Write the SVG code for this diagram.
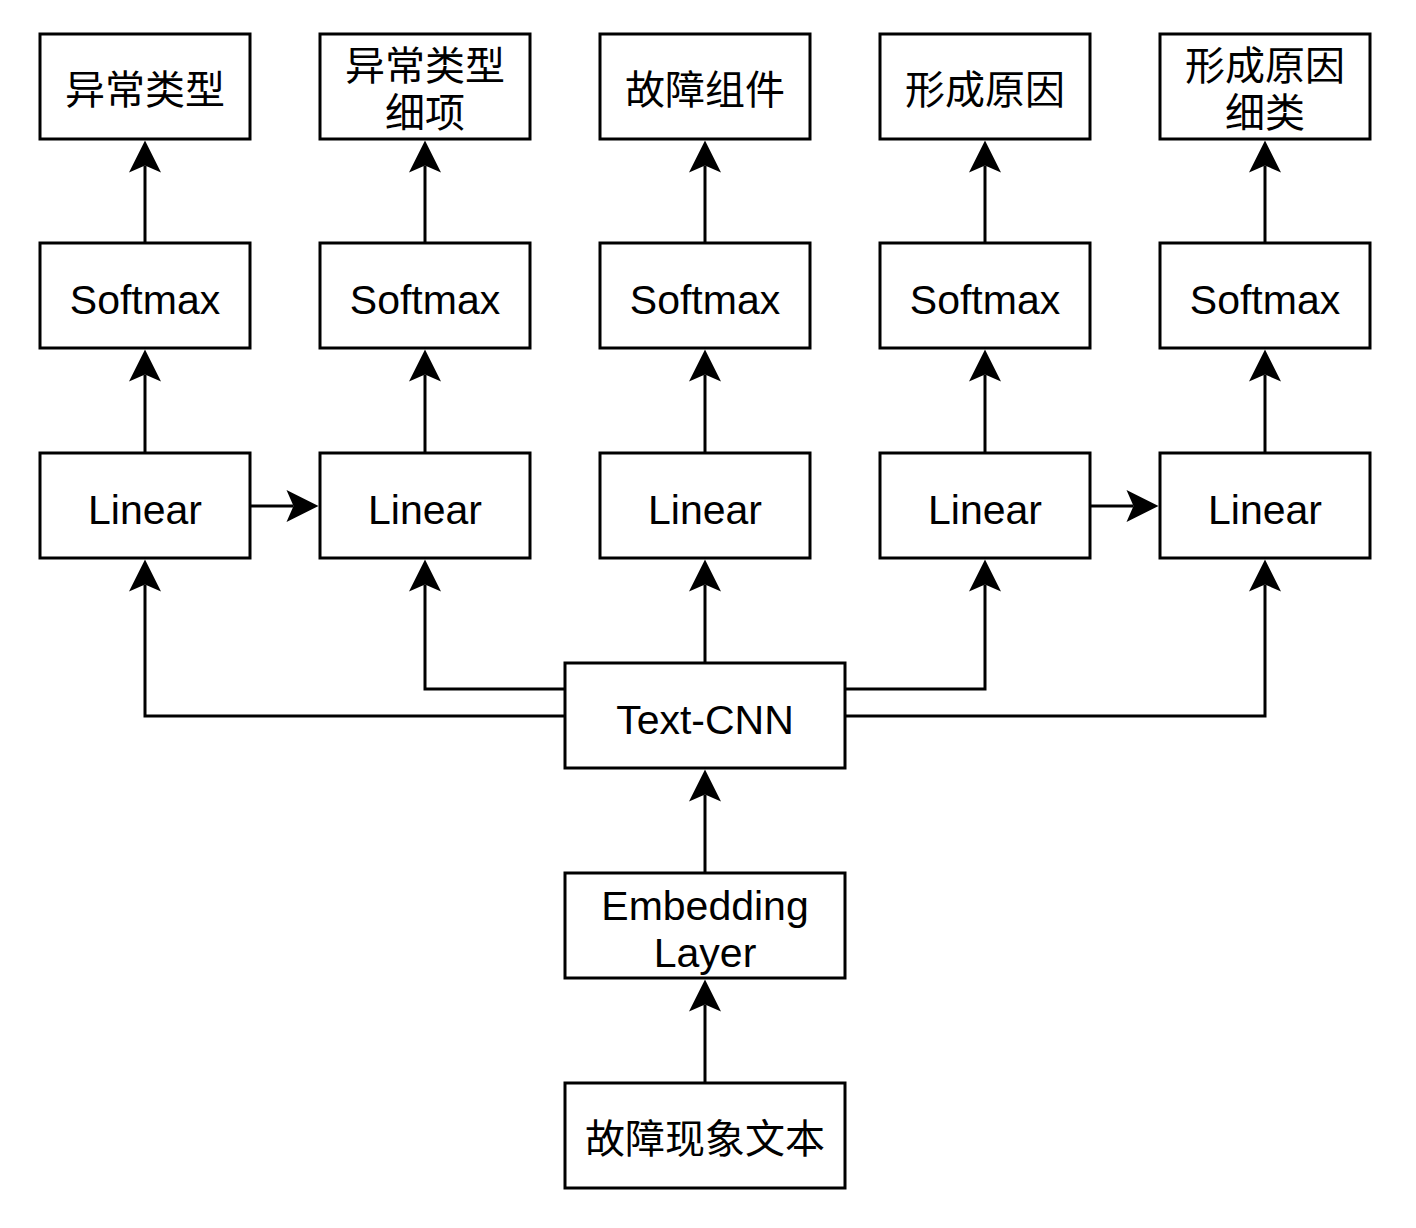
<svg xmlns="http://www.w3.org/2000/svg" width="1416" height="1228" viewBox="0 0 1416 1228">
<style>
.box{fill:#fff;stroke:#000;stroke-width:3}
.t{font-family:"Liberation Sans","Noto Sans CJK SC",sans-serif;font-size:41px;fill:#000;text-anchor:middle}
.c{font-family:"Noto Sans CJK SC","Liberation Sans",sans-serif;font-size:40px;fill:#000;text-anchor:middle}
.e{fill:none;stroke:#000;stroke-width:3;marker-end:url(#arr)}
</style>
<defs>
<marker id="arr" markerUnits="userSpaceOnUse" markerWidth="34" markerHeight="34" refX="7" refY="16" orient="auto" overflow="visible">
<path d="M0,0 L32,16 L0,32 L7,16 Z" fill="#000"/>
</marker>
</defs>
<rect width="1416" height="1228" fill="#fff"/>
<g id="connectors">
<line class="e" x1="145" y1="243" x2="145" y2="165.5"/>
<line class="e" x1="425" y1="243" x2="425" y2="165.5"/>
<line class="e" x1="705" y1="243" x2="705" y2="165.5"/>
<line class="e" x1="985" y1="243" x2="985" y2="165.5"/>
<line class="e" x1="1265" y1="243" x2="1265" y2="165.5"/>
<line class="e" x1="145" y1="453" x2="145" y2="374.5"/>
<line class="e" x1="425" y1="453" x2="425" y2="374.5"/>
<line class="e" x1="705" y1="453" x2="705" y2="374.5"/>
<line class="e" x1="985" y1="453" x2="985" y2="374.5"/>
<line class="e" x1="1265" y1="453" x2="1265" y2="374.5"/>
<line class="e" x1="250" y1="506" x2="293.5" y2="506"/>
<line class="e" x1="1090" y1="506" x2="1133.5" y2="506"/>
<line class="e" x1="705" y1="663" x2="705" y2="584.5"/>
<polyline class="e" points="565,689 425,689 425,584.5"/>
<polyline class="e" points="565,716 145,716 145,584.5"/>
<polyline class="e" points="845,689 985,689 985,584.5"/>
<polyline class="e" points="845,716 1265,716 1265,584.5"/>
<line class="e" x1="705" y1="873" x2="705" y2="794.5"/>
<line class="e" x1="705" y1="1083" x2="705" y2="1004.5"/>
</g>
<g id="out1"><rect class="box" x="40" y="34" width="210" height="105"/><text class="c" x="145" y="104">异常类型</text></g>
<g id="out2"><rect class="box" x="320" y="34" width="210" height="105"/><text class="c" x="425" y="80">异常类型</text><text class="c" x="425" y="127">细项</text></g>
<g id="out3"><rect class="box" x="600" y="34" width="210" height="105"/><text class="c" x="705" y="104">故障组件</text></g>
<g id="out4"><rect class="box" x="880" y="34" width="210" height="105"/><text class="c" x="985" y="104">形成原因</text></g>
<g id="out5"><rect class="box" x="1160" y="34" width="210" height="105"/><text class="c" x="1265" y="80">形成原因</text><text class="c" x="1265" y="127">细类</text></g>
<g id="softmax1"><rect class="box" x="40" y="243" width="210" height="105"/><text class="t" x="145" y="314">Softmax</text></g>
<g id="softmax2"><rect class="box" x="320" y="243" width="210" height="105"/><text class="t" x="425" y="314">Softmax</text></g>
<g id="softmax3"><rect class="box" x="600" y="243" width="210" height="105"/><text class="t" x="705" y="314">Softmax</text></g>
<g id="softmax4"><rect class="box" x="880" y="243" width="210" height="105"/><text class="t" x="985" y="314">Softmax</text></g>
<g id="softmax5"><rect class="box" x="1160" y="243" width="210" height="105"/><text class="t" x="1265" y="314">Softmax</text></g>
<g id="linear1"><rect class="box" x="40" y="453" width="210" height="105"/><text class="t" x="145" y="524">Linear</text></g>
<g id="linear2"><rect class="box" x="320" y="453" width="210" height="105"/><text class="t" x="425" y="524">Linear</text></g>
<g id="linear3"><rect class="box" x="600" y="453" width="210" height="105"/><text class="t" x="705" y="524">Linear</text></g>
<g id="linear4"><rect class="box" x="880" y="453" width="210" height="105"/><text class="t" x="985" y="524">Linear</text></g>
<g id="linear5"><rect class="box" x="1160" y="453" width="210" height="105"/><text class="t" x="1265" y="524">Linear</text></g>
<g id="textcnn"><rect class="box" x="565" y="663" width="280" height="105"/><text class="t" x="705" y="734">Text-CNN</text></g>
<g id="embedding"><rect class="box" x="565" y="873" width="280" height="105"/><text class="t" x="705" y="920">Embedding</text><text class="t" x="705" y="967">Layer</text></g>
<g id="input"><rect class="box" x="565" y="1083" width="280" height="105"/><text class="c" x="705" y="1153">故障现象文本</text></g>
</svg>
